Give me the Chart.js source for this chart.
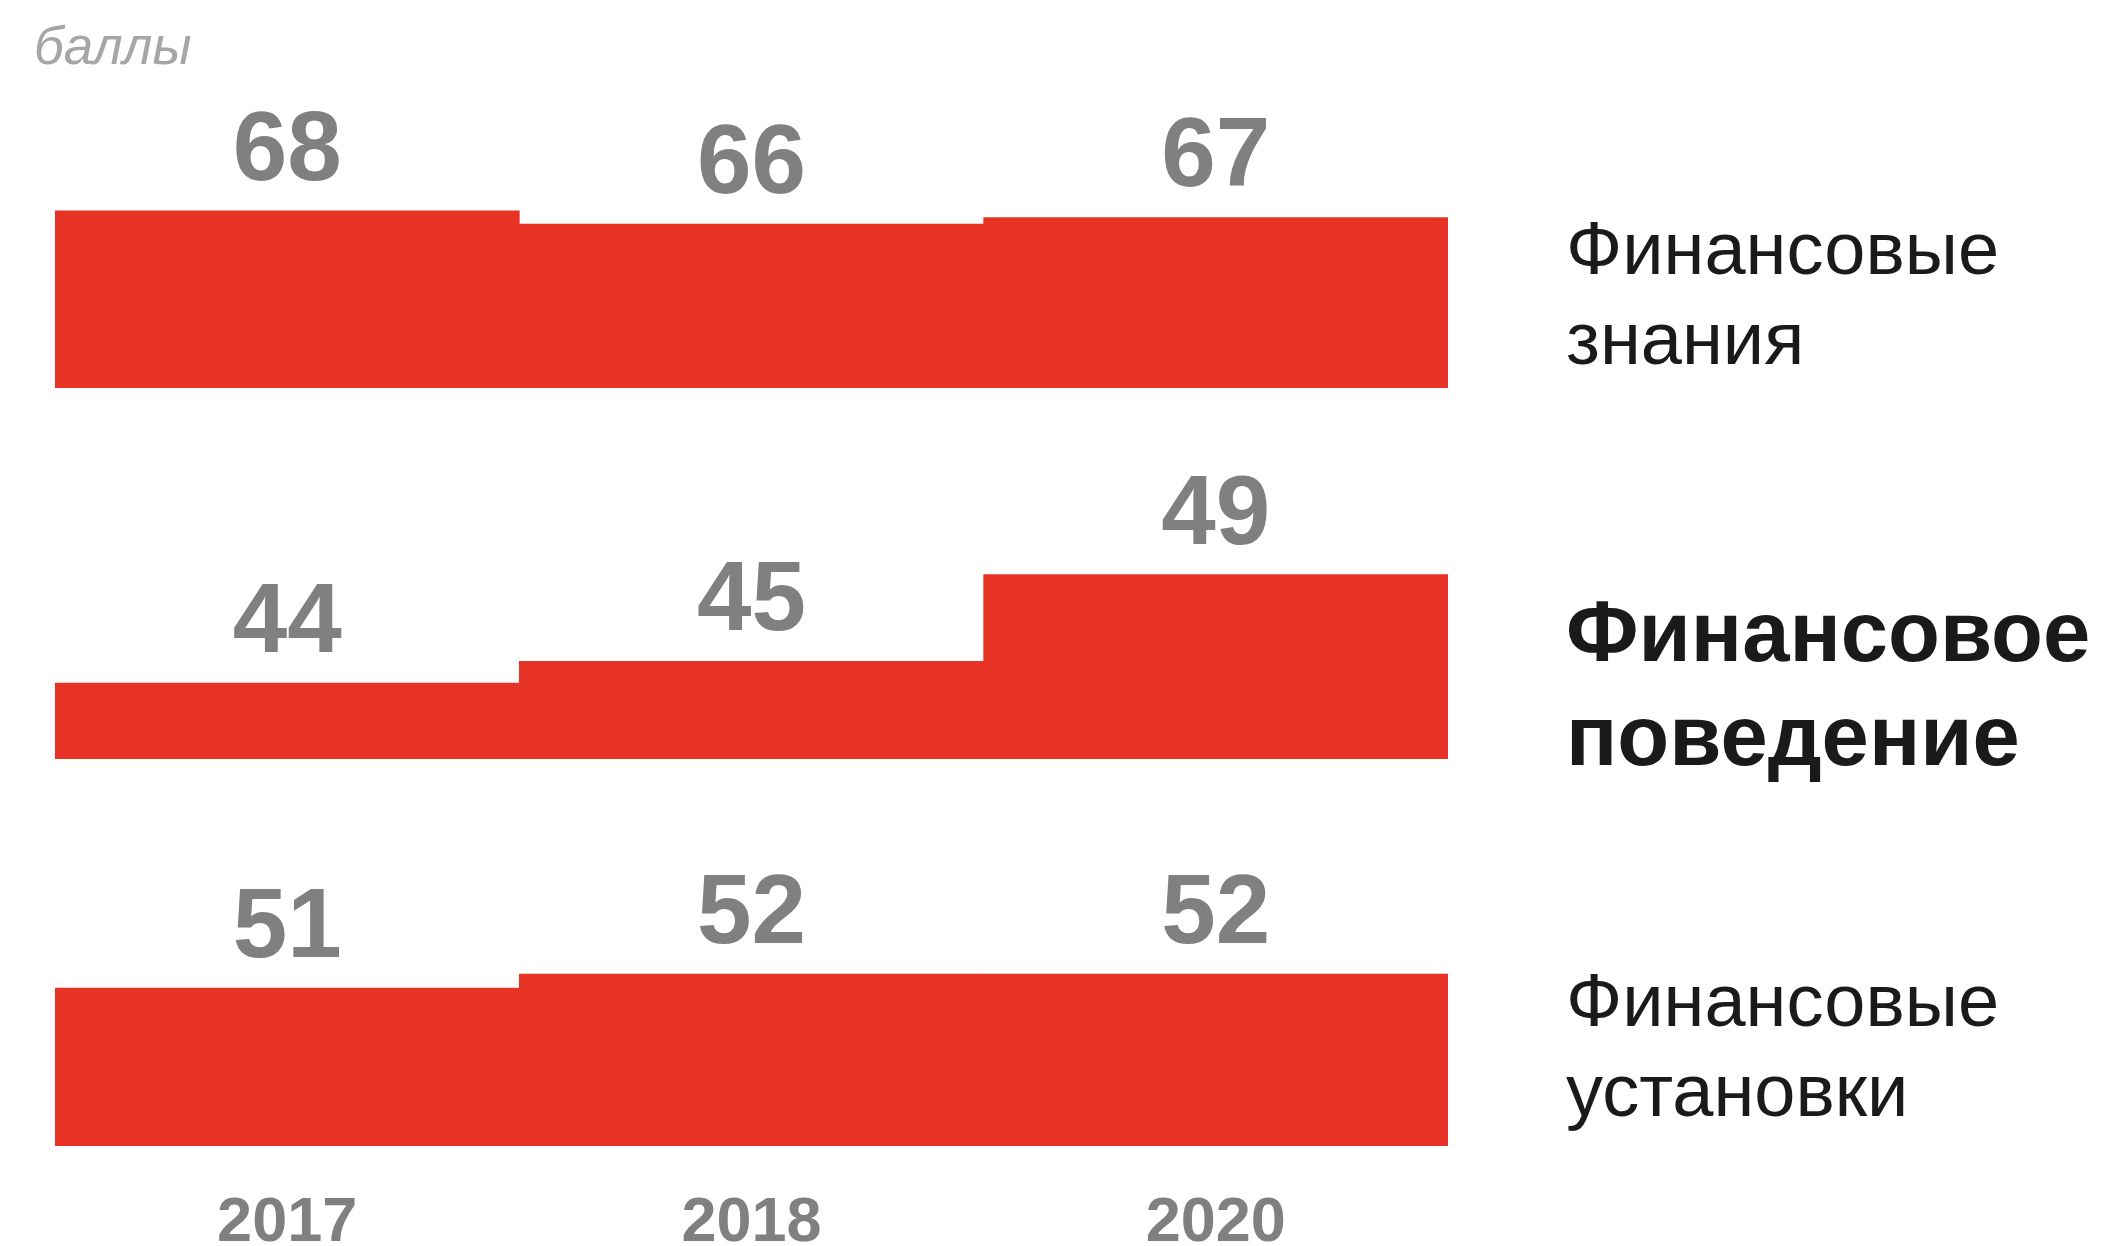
<!DOCTYPE html>
<html lang="ru">
<head>
<meta charset="utf-8">
<title>Финансовая грамотность</title>
<script src="https://cdn.jsdelivr.net/npm/chart.js@4"></script>
<style>
  html, body { margin: 0; padding: 0; background: #fff; overflow: hidden; }
  body { width: 2106px; height: 1246px; position: relative; font-family: "Liberation Sans", Arial, sans-serif; }
  canvas { position: absolute; left: 55px; }
  .unit { position: absolute; left: 34px; top: 19px; font-size: 53px; line-height: 53px; font-style: italic; color: #a6a6a6; }
  .group { position: absolute; left: 1566px; color: #1a1a1a; font-size: 74px; line-height: 90px; }
  .group.main { font-size: 85px; line-height: 104px; font-weight: bold; }
</style>
</head>
<body>
<div class="unit">баллы</div>

<canvas id="knowledge" width="1393" height="288" style="top:100px"></canvas>
<canvas id="behaviour" width="1393" height="319" style="top:440px"></canvas>
<canvas id="attitudes" width="1393" height="461" style="top:840px"></canvas>

<div class="group" style="top:204px">Финансовые<br>знания</div>
<div class="group main" style="top:580px">Финансовое<br>поведение</div>
<div class="group" style="top:956px">Финансовые<br>установки</div>

<script>
const years = ['2017', '2018', '2020'];
const knowledge = [68, 66, 67];
const behaviour = [44, 45, 49];
const attitudes = [51, 52, 52];

const FONT = '"Liberation Sans", Arial, sans-serif';
const RED = '#e63325';
const GREY = '#808080';

// подписи значений над столбцами
const valueLabels = {
  id: 'valueLabels',
  afterDatasetsDraw(chart) {
    const ctx = chart.ctx;
    const ds = chart.data.datasets[0];
    ctx.save();
    ctx.font = 'bold 98px ' + FONT;
    ctx.fillStyle = GREY;
    ctx.textAlign = 'center';
    ctx.textBaseline = 'alphabetic';
    chart.getDatasetMeta(0).data.forEach((bar, i) => {
      ctx.fillText(ds.data[i], bar.x, bar.y - 31);
    });
    ctx.restore();
  }
};

function makeChart(id, values, yMin, yMax, showYears) {
  return new Chart(document.getElementById(id), {
    type: 'bar',
    data: {
      labels: years,
      datasets: [{
        data: values,
        backgroundColor: RED,
        borderWidth: 0,
        barPercentage: 1,
        categoryPercentage: 1
      }]
    },
    options: {
      responsive: false,
      animation: false,
      devicePixelRatio: 1,
      layout: { padding: 0 },
      plugins: { legend: { display: false }, tooltip: { enabled: false } },
      scales: {
        x: {
          display: showYears,
          grid: { display: false, drawTicks: false },
          border: { display: false },
          ticks: {
            padding: 46,
            color: GREY,
            font: { family: FONT, size: 63, weight: 'bold', lineHeight: 1 }
          }
        },
        y: { display: false, min: yMin, max: yMax }
      }
    },
    plugins: [valueLabels]
  });
}

makeChart('knowledge', knowledge, 41.6, 84.5, false);
makeChart('behaviour', behaviour, 40.5, 55.2, false);
makeChart('attitudes', attitudes, 39.8, 61.5, true);
</script>
</body>
</html>
